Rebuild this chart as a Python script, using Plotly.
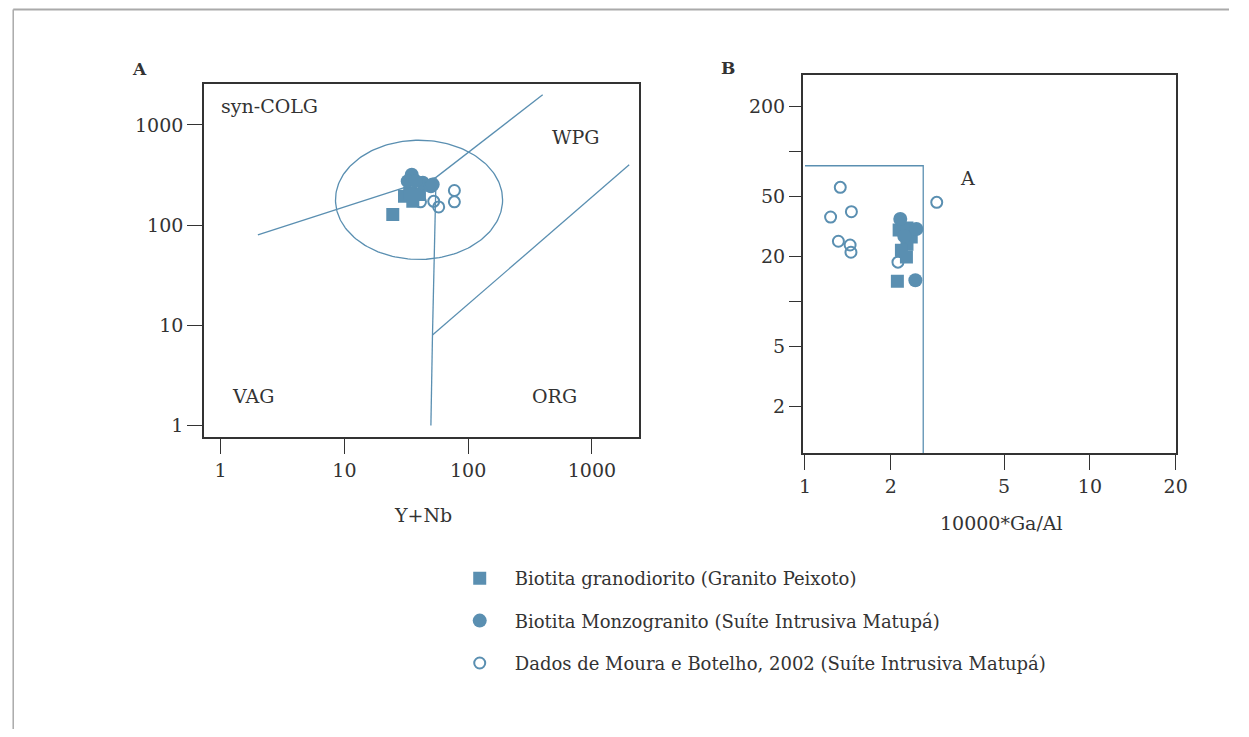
import numpy as np
import plotly.graph_objects as go

# ---------------- data ----------------
# Panel A: Rb vs Y+Nb (Pearce et al. 1984)
a_sq_x = [30.6, 35.7, 33.7, 40.4, 24.6]
a_sq_y = [194, 173, 210, 202, 128]
a_ci_x = [35.0, 32.5, 43.0, 50.0, 51.7, 37.7]
a_ci_y = [319, 275, 265, 245, 255, 275]
a_op_x = [77.4, 77.4, 52.7, 57.8, 41.2]
a_op_y = [222, 171, 173, 152, 171]

# Panel B: 10000*Ga/Al diagram
b_sq_x = [2.14, 2.28, 2.36, 2.28, 2.18, 2.27, 2.11]
b_sq_y = [29.8, 30.8, 26.8, 24.0, 21.9, 19.7, 13.6]
b_ci_x = [2.16, 2.46, 2.23, 2.44]
b_ci_y = [35.3, 30.3, 27.2, 13.8]
b_op_x = [1.33, 1.455, 1.23, 1.31, 1.44, 1.45, 2.90, 2.12]
b_op_y = [57.4, 39.5, 36.4, 25.1, 23.7, 21.2, 45.6, 18.2]

# field boundaries
a_bound_x = [2, 55, None, 55, 400, None, 55, 51.5, None, 51.5, 2000, None, 51.5, 50]
a_bound_y = [80, 300, None, 300, 2000, None, 300, 8, None, 8, 400, None, 8, 1]
ell_center = (40.1, 179.0)      # post-COLG ellipse centre (data units)
ell_semi = (0.675, 0.595)       # semi-axes in decades
b_bound_x = [1, 2.6, 2.6]
b_bound_y = [80, 80, 0.5]

series_names = ["Biotita granodiorito (Granito Peixoto)",
                "Biotita Monzogranito (Suíte Intrusiva Matupá)",
                "Dados de Moura e Botelho, 2002 (Suíte Intrusiva Matupá)"]

a_xticks = [1, 10, 100, 1000]
a_yticks = [1, 10, 100, 1000]
b_xticks = [1, 2, 5, 10, 20]
b_yticks = [2, 5, 10, 20, 50, 100, 200]
b_ytext = ["2", "5", "", "20", "50", "", "200"]

# ---------------- style ----------------
OFF = 8                      # page body margin of the html page
W, H = 1249 - 2 * OFF, 737 - 2 * OFF
BLUE = "#5a8fb1"
DARK = "#333333"
FONT = "DejaVu Serif"
SX_A, SX_B = 0.989, 0.5      # empirical horizontal correction of the rendering

fig = go.Figure()

t = np.linspace(0, 2 * np.pi, 200)
ell_x = 10 ** (np.log10(ell_center[0]) + ell_semi[0] * np.cos(t))
ell_y = 10 ** (np.log10(ell_center[1]) + ell_semi[1] * np.sin(t))

line_style = dict(color=BLUE, width=1.3)
fig.add_trace(go.Scatter(x=a_bound_x, y=a_bound_y, mode="lines", line=line_style,
                         showlegend=False, hoverinfo="skip", xaxis="x", yaxis="y"))
fig.add_trace(go.Scatter(x=ell_x, y=ell_y, mode="lines", line=line_style,
                         showlegend=False, hoverinfo="skip", xaxis="x", yaxis="y"))
fig.add_trace(go.Scatter(x=b_bound_x, y=b_bound_y, mode="lines", line=line_style,
                         showlegend=False, hoverinfo="skip", xaxis="x2", yaxis="y2"))

markers = [
    dict(symbol="square", size=13, color=BLUE),
    dict(symbol="circle", size=14, color=BLUE),
    dict(symbol="circle-open", size=11, color=BLUE, line=dict(width=2, color=BLUE)),
]
panelA = [(a_sq_x, a_sq_y), (a_ci_x, a_ci_y), (a_op_x, a_op_y)]
panelB = [(b_sq_x, b_sq_y), (b_ci_x, b_ci_y), (b_op_x, b_op_y)]
order = [2, 0, 1]  # draw open circles first
for i in order:
    fig.add_trace(go.Scatter(x=panelA[i][0], y=panelA[i][1], mode="markers",
                             marker=markers[i], name=series_names[i],
                             legendgroup=f"g{i}", legendrank=i + 1,
                             showlegend=True, xaxis="x", yaxis="y"))
    fig.add_trace(go.Scatter(x=panelB[i][0], y=panelB[i][1], mode="markers",
                             marker=markers[i], name=series_names[i],
                             legendgroup=f"g{i}", showlegend=False,
                             xaxis="x2", yaxis="y2"))

axis_common = dict(type="log", showgrid=False, zeroline=False, showline=True,
                   linecolor=DARK, linewidth=1.5, mirror=True, ticks="outside",
                   ticklen=15, tickcolor=DARK, tickwidth=1.2,
                   tickfont=dict(family=FONT, size=19, color=DARK), tickmode="array")


def px_x(p):
    s = (p - SX_B) / SX_A
    return (s - OFF) / W


def px_y(p):
    return 1 - (p - OFF) / H


fig.update_layout(
    width=W, height=H,
    margin=dict(l=0, r=0, t=0, b=0),
    paper_bgcolor="white", plot_bgcolor="white",
    font=dict(family=FONT, size=18, color=DARK),
    xaxis=dict(axis_common, domain=[px_x(200.7), px_x(637)], range=[-0.135, 3.383],
               tickvals=a_xticks, ticktext=[str(v) for v in a_xticks], anchor="y"),
    yaxis=dict(axis_common, domain=[px_y(437), px_y(83.7)], range=[-0.114, 3.412],
               tickvals=a_yticks, ticktext=[str(v) for v in a_yticks], anchor="x"),
    xaxis2=dict(axis_common, domain=[px_x(800.7), px_x(1175)], range=[-0.008, 1.303],
                tickvals=b_xticks, ticktext=[str(v) for v in b_xticks], anchor="y2"),
    yaxis2=dict(axis_common, domain=[px_y(453), px_y(75)], range=[-0.012, 2.508],
                tickvals=b_yticks, ticktext=b_ytext, anchor="x2", ticklen=12),
    showlegend=True,
    legend=dict(x=px_x(442), y=px_y(560), xanchor="left", yanchor="top",
                font=dict(family=FONT, size=18, color=DARK), itemwidth=60,
                tracegroupgap=16, bgcolor="rgba(0,0,0,0)"),
)

ann_font = dict(family=FONT, size=19, color=DARK)
annotations = [
    dict(x=np.log10(2.5), y=np.log10(1550), xref="x", yref="y", text="syn-COLG"),
    dict(x=np.log10(750), y=np.log10(759), xref="x", yref="y", text="WPG"),
    dict(x=np.log10(1.83), y=np.log10(1.97), xref="x", yref="y", text="VAG"),
    dict(x=np.log10(499), y=np.log10(1.97), xref="x", yref="y", text="ORG"),
    dict(x=np.log10(3.73), y=np.log10(66), xref="x2", yref="y2", text="A"),
]
for a in annotations:
    fig.add_annotation(**a, showarrow=False, font=ann_font, xanchor="center", yanchor="middle")

fig.add_annotation(x=px_x(420), y=px_y(515), xref="paper", yref="paper", text="Y+Nb",
                   showarrow=False, font=ann_font, xanchor="center", yanchor="middle")
fig.add_annotation(x=px_x(1000), y=px_y(523), xref="paper", yref="paper", text="10000*Ga/Al",
                   showarrow=False, font=ann_font, xanchor="center", yanchor="middle")
fig.add_annotation(x=px_x(136), y=px_y(69), xref="paper", yref="paper", text="<b>A</b>",
                   showarrow=False, font=dict(family=FONT, size=17, color=DARK),
                   xanchor="center", yanchor="middle")
fig.add_annotation(x=px_x(726), y=px_y(68), xref="paper", yref="paper", text="<b>B</b>",
                   showarrow=False, font=dict(family=FONT, size=17, color=DARK),
                   xanchor="center", yanchor="middle")

# outer page border (top and left), drawn at the figure edge
fig.add_shape(type="line", xref="paper", yref="paper", x0=0.001, x1=1, y0=0.998, y1=0.998,
              line=dict(color="#aaaaaa", width=2))
fig.add_shape(type="line", xref="paper", yref="paper", x0=0.001, x1=0.001, y0=0, y1=0.998,
              line=dict(color="#aaaaaa", width=1.5))

fig.write_html("out.html", config={"displayModeBar": False})
